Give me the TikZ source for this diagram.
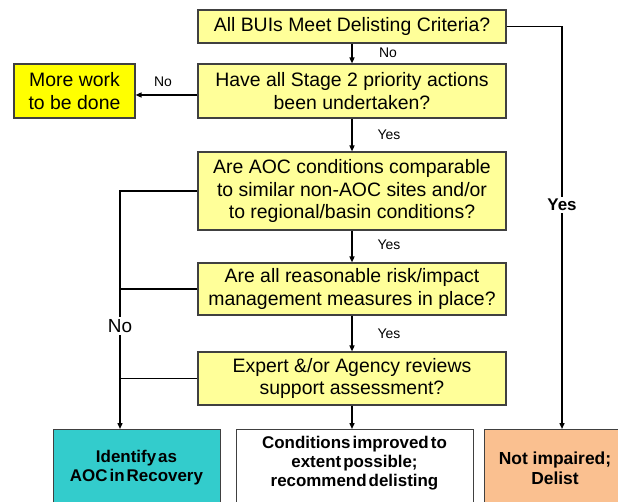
\documentclass[tikz,border=0pt]{standalone}
\usepackage{fontspec}
\setmainfont{Liberation Sans}
\usetikzlibrary{arrows.meta}
\definecolor{paleyel}{RGB}{255,255,153}
\definecolor{brightyel}{RGB}{255,255,0}
\definecolor{tealbox}{RGB}{51,204,204}
\definecolor{peachbox}{RGB}{250,192,144}
\definecolor{boxline}{RGB}{64,64,64}
\newcommand{\tightsp}{\spaceskip=0.12em\relax}
\begin{document}
\begin{tikzpicture}[x=1bp,y=-1bp,
  qbox/.style={draw=boxline, line width=1.1bp, fill=paleyel, minimum width=308bp,
    align=center, inner sep=0pt, font=\fontsize{19.5}{23}\selectfont},
  endbox/.style={draw=boxline, line width=1.1bp, align=center, inner sep=0pt,
    font=\fontsize{17}{19}\selectfont\bfseries\tightsp},
  conn/.style={line width=1.4bp, draw=black},
  arr/.style={conn, -{Triangle[length=6bp,width=5bp]}},
  lbl/.style={font=\fontsize{14}{16}\selectfont, inner sep=1bp}
]
\useasboundingbox (0,0) rectangle (618,502);
\clip (0,0) rectangle (618,502);

% question boxes
\node[qbox, minimum height=33bp] (q1) at (352,26.5) {All BUIs Meet Delisting Criteria?};
\node[qbox, minimum height=54bp] (q2) at (352,91) {Have all Stage 2 priority actions\\been undertaken?};
\node[qbox, minimum height=78bp] (q3) at (352,191) {Are AOC conditions comparable\\to similar non-AOC sites and/or\\to regional/basin conditions?};
\node[qbox, minimum height=52bp] (q4) at (352,289) {Are all reasonable risk/impact\\management measures in place?};
\node[qbox, minimum height=53bp] (q5) at (352,378.5) {Expert \&/or Agency reviews\\support assessment?};

% side box
\node[draw=boxline, line width=1.1bp, fill=brightyel, minimum width=121bp, minimum height=54bp,
  align=center, inner sep=0pt, font=\fontsize{19.5}{23}\selectfont] (more) at (74.5,91) {More work\\to be done};

% outcome boxes (run past the lower edge)
\node[draw=boxline, line width=1.1bp, fill=tealbox, minimum width=167bp, minimum height=80bp, anchor=north west, inner sep=0pt] (ident) at (53,429) {};
\node[draw=boxline, line width=1.1bp, fill=white, minimum width=237bp, minimum height=80bp, anchor=north west, inner sep=0pt] (cond) at (236,429) {};
\node[draw=boxline, line width=1.1bp, fill=peachbox, minimum width=150bp, minimum height=80bp, anchor=north west, inner sep=0pt] (delist) at (484,429) {};
\node[endbox, draw=none] (identt) at (136.5,468) {Identify as\\AOC in Recovery};
\node[endbox, draw=none] (condt) at (354.5,463) {Conditions improved to\\extent possible;\\recommend delisting};
\node[draw=none, align=center, inner sep=0pt, font=\fontsize{17.5}{20}\selectfont\bfseries] (delistt) at (555,468) {Not impaired;\\Delist};

% spine
\coordinate (L) at (120,0);
\coordinate (R) at (562,0);
\draw[arr] (q1.south) -- (q2.north);
\draw[arr] ([yshift=-4bp]q2.west) -- ([yshift=-4bp]q2.west -| more.east);
\draw[arr] (q2.south) -- (q3.north);
\draw[arr] (q3.south) -- (q4.north);
\draw[arr] (q4.south) -- (q5.north);
\draw[arr] (q5.south) -- (q5.south |- cond.north);

% left "No" collector
\draw[arr] (q3.west) -- (q3.west -| L) -- (L |- ident.north);
\draw[conn] (q4.west) -- (q4.west -| L);
\draw[conn] (q5.west) -- (q5.west -| L);

% right "Yes" path
\draw[arr] (q1.east) -- (q1.east -| R) -- (R |- delist.north);

% labels
\node[lbl] (no1) at (388,53) {No};
\node[lbl] (no2) at (163,82) {No};
\node[lbl] (yes1) at (389,135) {Yes};
\node[lbl] (yes2) at (389,245) {Yes};
\node[lbl] (yes3) at (389,334) {Yes};
\node[fill=white, inner sep=2bp, font=\fontsize{19}{21}\selectfont] (nol) at (120,326) {No};
\node[fill=white, inner sep=2bp, font=\fontsize{17}{19}\selectfont\bfseries] (yesr) at (562,205) {Yes};
\end{tikzpicture}
\end{document}
